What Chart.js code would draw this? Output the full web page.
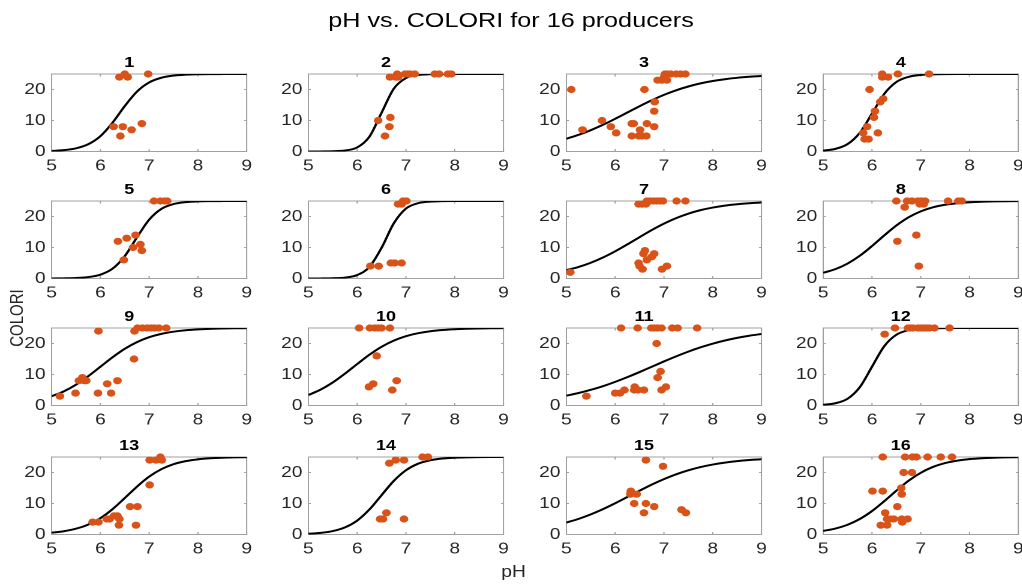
<!DOCTYPE html>
<html>
<head>
<meta charset="utf-8">
<script src="https://cdn.jsdelivr.net/npm/chart.js@4.4.0/dist/chart.umd.min.js"></script>
<style>
    html, body { margin: 0; padding: 0; background: #fff; }
    /* the reference figure is stretched sideways, so the whole figure is drawn narrow and scaled */
    #fig { position: relative; width: 851.67px; height: 584px; transform: scaleX(1.2); transform-origin: 0 0;
           font-family: "Liberation Sans", Arial, sans-serif; }
    .panel { position: absolute; }
    #title { position: absolute; left: 0; width: 100%; top: 8px; text-align: center; font-size: 21px; color: #000; }
    #ylab { position: absolute; left: 14px; top: 318px; transform: translate(-50%, -50%) rotate(-90deg);
            font-size: 15px; color: #262626; white-space: nowrap; }
    #xlab { position: absolute; left: 428px; top: 572px; transform: translate(-50%, -50%); font-size: 16px; color: #262626; }
</style>
</head>
<body>
<div id="fig">
    <div id="title">pH vs. COLORI for 16 producers</div>
    <div id="ylab">COLORI</div>
    <div id="xlab">pH</div>
</div>
<script>
// Data
const panelTitles = ['1', '2', '3', '4', '5', '6', '7', '8', '9', '10', '11', '12', '13', '14', '15', '16'];
const xTicks = [5, 6, 7, 8, 9];
const yTicks = [0, 10, 20];

// measured pH for each producer
const phData = [
    [6.39, 6.50, 6.56, 6.98, 6.27, 6.46, 6.41, 6.64, 6.85],
    [6.43, 6.57, 6.66, 6.68, 6.67, 6.79, 6.82, 6.84, 6.98, 7.04, 7.09, 7.18, 7.59, 7.68, 7.86, 7.93],
    [5.10, 5.33, 5.73, 5.91, 6.02, 6.34, 6.38, 6.34, 6.51, 6.48, 6.55, 6.64, 6.65, 6.60, 6.80, 6.80, 6.81, 6.87, 6.96, 7.00, 7.06, 7.02, 7.06, 7.14, 7.25, 7.34, 7.44],
    [5.82, 5.85, 5.93, 5.90, 5.95, 6.04, 6.06, 6.12, 6.17, 6.23, 6.21, 6.21, 6.33, 6.53, 7.17],
    [6.36, 6.48, 6.54, 6.67, 6.72, 6.82, 6.85, 7.10, 7.23, 7.32, 7.37],
    [6.27, 6.44, 6.69, 6.77, 6.91, 6.84, 6.91, 6.94, 7.01],
    [5.08, 6.48, 6.55, 6.63, 6.65, 6.72, 6.79, 6.85, 6.92, 6.98, 7.26, 7.44, 6.48, 6.50, 6.56, 6.58, 6.61, 6.65, 6.75, 6.80, 6.96, 7.06],
    [6.50, 6.67, 6.72, 6.82, 6.94, 6.98, 7.01, 7.06, 7.09, 7.56, 7.77, 7.84, 6.52, 6.91, 6.96],
    [5.17, 5.49, 5.56, 5.63, 5.67, 5.71, 5.96, 5.95, 6.14, 6.22, 6.35, 6.69, 6.70, 6.76, 6.86, 6.96, 7.04, 7.11, 7.20, 7.35],
    [6.04, 6.26, 6.36, 6.43, 6.50, 6.67, 6.24, 6.33, 6.40, 6.72, 6.81],
    [5.41, 6.00, 6.10, 6.19, 6.12, 6.46, 6.74, 6.80, 6.87, 6.95, 7.17, 7.28, 7.68, 6.85, 6.87, 6.93, 6.95, 7.04, 6.40, 6.39, 6.47, 6.59],
    [6.26, 6.47, 6.74, 6.79, 6.84, 6.94, 6.99, 7.04, 7.09, 7.13, 7.18, 7.28, 7.59],
    [5.84, 5.96, 6.13, 6.19, 6.28, 6.35, 6.39, 6.38, 6.61, 6.76, 6.73, 7.01, 7.01, 7.14, 7.23, 7.26],
    [6.47, 6.53, 6.60, 6.66, 6.79, 6.96, 6.96, 7.34, 7.45],
    [6.63, 6.98, 6.32, 6.31, 6.44, 6.39, 6.63, 6.80, 6.59, 7.36, 7.45],
    [6.01, 6.22, 6.22, 6.68, 6.83, 6.91, 7.14, 7.41, 7.64, 6.65, 6.82, 6.60, 6.61, 6.52, 6.27, 6.31, 6.37, 6.45, 6.61, 6.62, 6.73, 6.18, 6.31]
];

// measured COLORI, same order as phData
const coloriData = [
    [24, 25, 24, 25, 8, 8, 5, 7, 9],
    [10, 5, 8, 11, 24, 24, 25, 24, 25, 25, 25, 25, 25, 25, 25, 25],
    [20, 7, 10, 8, 6, 9, 9, 5, 7, 5, 5, 5, 9, 20, 8, 13, 16, 23, 23, 24, 23, 25, 25, 25, 25, 25, 25],
    [6, 4, 4, 8, 20, 11, 13, 6, 16, 17, 25, 24, 24, 25, 25],
    [12, 6, 13, 10, 14, 11, 9, 25, 25, 25, 25],
    [4, 4, 5, 5, 5, 24, 24, 25, 25],
    [2, 24, 24, 24, 25, 25, 25, 25, 25, 25, 25, 25, 5, 4, 3, 8, 9, 6, 7, 8, 3, 4],
    [25, 23, 25, 25, 25, 24, 25, 24, 25, 25, 25, 25, 12, 14, 4],
    [3, 4, 8, 9, 8, 8, 24, 4, 7, 4, 8, 15, 24, 25, 25, 25, 25, 25, 25, 25],
    [25, 25, 25, 25, 25, 25, 6, 7, 16, 5, 8],
    [3, 4, 4, 5, 25, 25, 25, 25, 25, 25, 25, 25, 25, 20, 9, 11, 5, 6, 6, 5, 5, 5],
    [23, 25, 25, 25, 25, 25, 25, 25, 25, 25, 25, 25, 25],
    [4, 4, 5, 5, 6, 6, 5, 3, 9, 9, 3, 16, 24, 24, 25, 24],
    [5, 5, 7, 23, 24, 24, 5, 25, 25],
    [24, 22, 14, 13, 13, 10, 10, 9, 7, 8, 7],
    [14, 14, 25, 25, 25, 25, 25, 25, 25, 20, 20, 15, 13, 9, 7, 5, 5, 5, 5, 4, 5, 3, 3]
];

// fitted curve at quarter pH steps
const fitPh = [5, 5.25, 5.5, 5.75, 6, 6.25, 6.5, 6.75, 7, 7.25, 7.5, 7.75, 8, 8.25, 8.5, 8.75, 9];
const fitColori = [
    [0.19, 0.44, 1.03, 2.33, 4.94, 9.29, 14.66, 19.32, 22.27, 23.79, 24.48, 24.78, 24.91, 24.96, 24.98, 24.99, 25.0],
    [0.00, 0.02, 0.08, 0.32, 1.30, 4.75, 12.5, 20.25, 23.70, 24.68, 24.92, 24.98, 25.0, 25.0, 25.0, 25.0, 25.0],
    [4.11, 5.37, 6.88, 8.62, 10.55, 12.58, 14.61, 16.52, 18.26, 19.75, 20.97, 21.97, 22.73, 23.32, 23.77, 24.10, 24.35],
    [0.29, 0.85, 2.40, 6.04, 12.22, 18.55, 22.41, 24.07, 24.68, 24.89, 24.96, 24.99, 25.0, 25.0, 25.0, 25.0, 25.0],
    [0.02, 0.06, 0.17, 0.46, 1.24, 3.18, 7.21, 13.27, 18.98, 22.45, 24.02, 24.64, 24.87, 24.95, 24.98, 24.99, 25.0],
    [0.01, 0.02, 0.08, 0.30, 1.11, 3.70, 9.89, 17.78, 22.56, 24.30, 24.81, 24.95, 24.99, 25.0, 25.0, 25.0, 25.0],
    [2.69, 3.73, 5.09, 6.77, 8.77, 11.01, 13.34, 15.62, 17.70, 19.48, 20.92, 22.05, 22.89, 23.51, 23.96, 24.27, 24.50],
    [1.85, 3.03, 4.83, 7.33, 10.46, 13.87, 17.09, 19.73, 21.66, 22.96, 23.78, 24.28, 24.58, 24.76, 24.86, 24.92, 24.95],
    [2.98, 4.56, 6.72, 9.44, 12.5, 15.56, 18.28, 20.44, 22.02, 23.10, 23.81, 24.27, 24.55, 24.73, 24.83, 24.90, 24.94],
    [3.37, 5.11, 7.43, 10.28, 13.37, 16.37, 18.94, 20.94, 22.37, 23.33, 23.96, 24.36, 24.61, 24.76, 24.85, 24.91, 24.95],
    [3.18, 4.03, 5.05, 6.24, 7.62, 9.15, 10.79, 12.5, 14.21, 15.85, 17.38, 18.76, 19.95, 20.97, 21.82, 22.51, 23.06],
    [0.23, 0.72, 2.18, 5.90, 12.5, 19.10, 22.82, 24.29, 24.78, 24.93, 24.98, 24.99, 25.0, 25.0, 25.0, 25.0, 25.0],
    [0.59, 1.06, 1.86, 3.20, 5.27, 8.19, 11.75, 15.44, 18.66, 21.07, 22.68, 23.67, 24.25, 24.58, 24.77, 24.87, 24.93],
    [0.24, 0.52, 1.11, 2.29, 4.49, 8.05, 12.69, 17.28, 20.73, 22.84, 23.95, 24.51, 24.77, 24.89, 24.95, 24.98, 24.99],
    [3.85, 5.04, 6.49, 8.18, 10.08, 12.09, 14.13, 16.09, 17.86, 19.41, 20.70, 21.75, 22.56, 23.20, 23.67, 24.03, 24.29],
    [1.15, 1.92, 3.15, 5.00, 7.56, 10.73, 14.14, 17.32, 19.91, 21.79, 23.04, 23.83, 24.31, 24.60, 24.77, 24.87, 24.92]
];

// Layout (unscaled px)
const colLeft = [42.5, 256.9, 471.7, 686.1];
const rowTop = [74, 201, 328, 457];
const boxW = 163.3, boxH = 77.5;
const axisW = 34, titleH = 24, axisH = 22.5, rightPad = 8.7;
const FONT = "'Liberation Sans', Arial, sans-serif";

// box with inward ticks on all four sides, like the original
const boxTicks = {
    id: 'boxTicks',
    beforeDatasetsDraw(chart) {
        const { ctx, chartArea: a, scales: { x, y } } = chart;
        ctx.save();
        ctx.strokeStyle = '#a0a0a0';
        ctx.lineWidth = 1;
        ctx.strokeRect(a.left, a.top, a.right - a.left, a.bottom - a.top);
        ctx.beginPath();
        x.ticks.forEach(t => {
            const px = x.getPixelForValue(t.value);
            ctx.moveTo(px, a.bottom); ctx.lineTo(px, a.bottom - 2.5);
            ctx.moveTo(px, a.top); ctx.lineTo(px, a.top + 2.5);
        });
        y.ticks.forEach(t => {
            const py = y.getPixelForValue(t.value);
            ctx.moveTo(a.left, py); ctx.lineTo(a.left + 2, py);
            ctx.moveTo(a.right, py); ctx.lineTo(a.right - 2, py);
        });
        ctx.stroke();
        ctx.restore();
    }
};

const fig = document.getElementById('fig');

panelTitles.forEach((name, i) => {
    const wrap = document.createElement('div');
    wrap.className = 'panel';
    wrap.style.left = (colLeft[i % 4] - axisW) + 'px';
    wrap.style.top = (rowTop[Math.floor(i / 4)] - titleH) + 'px';
    const canvas = document.createElement('canvas');
    canvas.width = axisW + boxW + rightPad;
    canvas.height = titleH + boxH + axisH;
    wrap.appendChild(canvas);
    fig.appendChild(wrap);

    new Chart(canvas, {
        type: 'scatter',
        data: {
            datasets: [
                {
                    data: phData[i].map((v, j) => ({ x: v, y: coloriData[i][j] })),
                    backgroundColor: '#D95319',
                    borderWidth: 0,
                    pointRadius: 3.6,
                    clip: false
                },
                {
                    data: fitPh.map((v, j) => ({ x: v, y: fitColori[i][j] })),
                    showLine: true,
                    borderColor: '#000',
                    borderWidth: 2,
                    pointRadius: 0,
                    cubicInterpolationMode: 'monotone'
                }
            ]
        },
        options: {
            responsive: false,
            animation: false,
            devicePixelRatio: 2,
            layout: { padding: { left: 0, right: rightPad, top: 0, bottom: 0 } },
            plugins: {
                legend: { display: false },
                tooltip: { enabled: false },
                title: {
                    display: true,
                    text: name,
                    color: '#000',
                    font: { family: FONT, size: 15, weight: 'bold' },
                    padding: { top: 4, bottom: 2 }
                }
            },
            scales: {
                x: {
                    type: 'linear',
                    min: 5, max: 9,
                    afterBuildTicks: s => { s.ticks = xTicks.map(v => ({ value: v })); },
                    afterFit: s => { s.height = axisH; },
                    grid: { display: false, drawTicks: false },
                    border: { display: false },
                    ticks: { color: '#262626', font: { family: FONT, size: 16 }, padding: 5, maxRotation: 0 }
                },
                y: {
                    type: 'linear',
                    min: 0, max: 25,
                    afterBuildTicks: s => { s.ticks = yTicks.map(v => ({ value: v })); },
                    afterFit: s => { s.width = axisW; },
                    grid: { display: false, drawTicks: false },
                    border: { display: false },
                    ticks: { color: '#262626', font: { family: FONT, size: 16 }, padding: 5 }
                }
            }
        },
        plugins: [boxTicks]
    });
});
</script>
</body>
</html>
